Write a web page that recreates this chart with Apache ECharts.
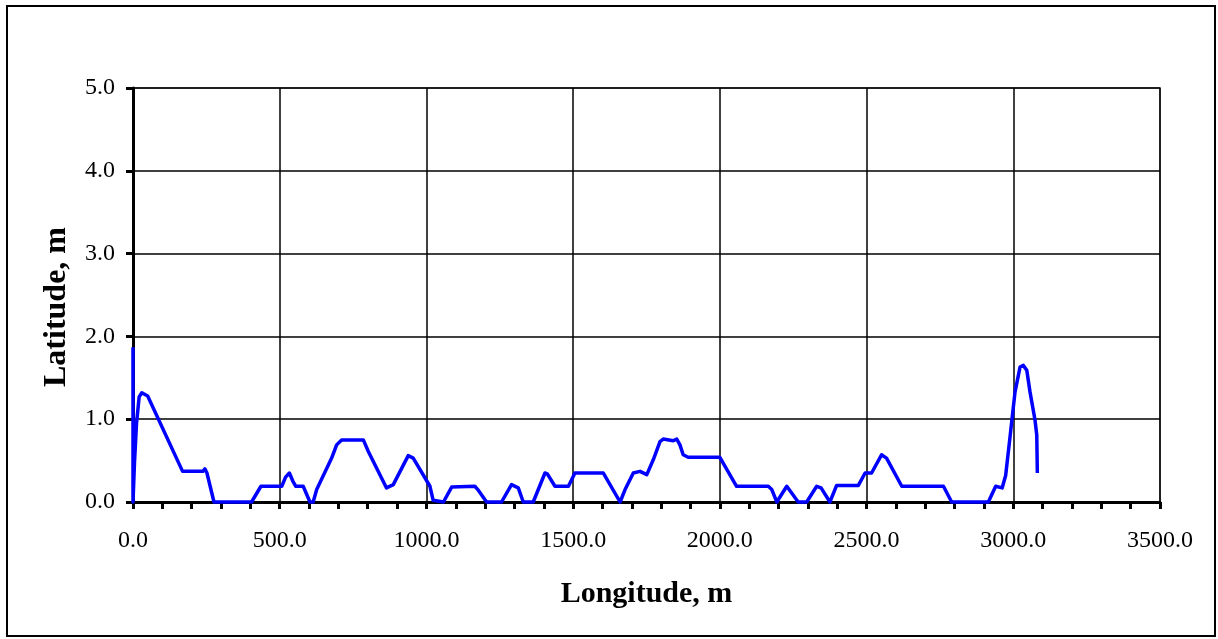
<!DOCTYPE html>
<html>
<head>
<meta charset="utf-8">
<script src="https://cdn.jsdelivr.net/npm/echarts@6/dist/echarts.min.js"></script>
<style>
html,body{margin:0;padding:0;background:#fff;}
#c{width:1218px;height:639px;}
</style>
</head>
<body>
<div id="c"></div>
<script>
const lon = [0, 0, 5, 12, 21, 30, 50, 169, 238, 245, 252, 276, 404, 436, 507, 520, 533, 545, 555, 580, 603, 614, 626, 677, 694, 711, 785, 802, 864, 887, 938, 955, 1012, 1023, 1058, 1086, 1165, 1175, 1205, 1256, 1290, 1313, 1330, 1364, 1404, 1412, 1438, 1484, 1506, 1603, 1660, 1677, 1705, 1728, 1751, 1773, 1796, 1807, 1841, 1853, 1864, 1875, 1892, 2000, 2057, 2165, 2177, 2194, 2228, 2267, 2296, 2330, 2345, 2375, 2398, 2472, 2495, 2517, 2551, 2568, 2620, 2762, 2767, 2790, 2915, 2940, 2962, 2974, 2989, 3006, 3023, 3034, 3046, 3057, 3074, 3080, 3082];
const lat = [1.87, 0, 0.47, 0.95, 1.27, 1.32, 1.28, 0.37, 0.37, 0.40, 0.35, 0, 0, 0.19, 0.19, 0.30, 0.35, 0.25, 0.19, 0.19, 0, 0, 0.15, 0.53, 0.69, 0.75, 0.75, 0.61, 0.17, 0.21, 0.56, 0.53, 0.19, 0.02, 0, 0.18, 0.19, 0.15, 0, 0, 0.21, 0.17, 0, 0, 0.35, 0.34, 0.19, 0.19, 0.35, 0.35, 0, 0.15, 0.35, 0.37, 0.33, 0.51, 0.73, 0.76, 0.74, 0.76, 0.69, 0.57, 0.54, 0.54, 0.19, 0.19, 0.15, 0, 0.19, 0, 0, 0.19, 0.17, 0, 0.2, 0.2, 0.35, 0.35, 0.57, 0.53, 0.19, 0.19, 0.2, 0, 0, 0.19, 0.17, 0.32, 0.79, 1.33, 1.63, 1.65, 1.59, 1.33, 0.99, 0.81, 0.35];
const xTitle = 'Longitude, m';
const yTitle = 'Latitude, m';
const xMin = 0, xMax = 3500, xStep = 500;
const yMin = 0, yMax = 5, yStep = 1;

const data = lon.map((v, i) => [v, lat[i]]);
const font = '"Liberation Serif", "Times New Roman", serif';

const chart = echarts.init(document.getElementById('c'), null, {renderer: 'canvas'});
chart.setOption({
  backgroundColor: '#fff',
  animation: false,
  grid: {left: 133, top: 88, right: 58, bottom: 137, show: true, borderColor: '#808080', borderWidth: 2, backgroundColor: 'transparent'},
  xAxis: {
    type: 'value', min: xMin, max: xMax, interval: xStep,
    name: xTitle, nameLocation: 'middle', nameGap: 77,
    nameTextStyle: {fontFamily: font, fontSize: 30, fontWeight: 'bold', color: '#000'},
    axisLine: {show: true, onZero: false, lineStyle: {color: '#000', width: 3}},
    axisTick: {show: true, inside: false, length: 7, lineStyle: {color: '#000', width: 3}},
    minorTick: {show: true, splitNumber: 5, length: 7, lineStyle: {color: '#000', width: 3}},
    axisLabel: {fontFamily: font, fontSize: 24, color: '#000', margin: 27, formatter: v => v.toFixed(1)},
    splitLine: {show: true, lineStyle: {color: '#000', width: 1.5}}
  },
  yAxis: {
    type: 'value', min: yMin, max: yMax, interval: yStep,
    axisLine: {show: true, onZero: false, lineStyle: {color: '#000', width: 3}},
    axisTick: {show: true, inside: false, length: 7, lineStyle: {color: '#000', width: 3}},
    axisLabel: {fontFamily: font, fontSize: 24, color: '#000', margin: 18, formatter: v => v.toFixed(1)},
    splitLine: {show: true, lineStyle: {color: '#000', width: 1.5}}
  },
  graphic: [
    {type: 'rect', shape: {x: 7, y: 6, width: 1208, height: 630}, style: {fill: 'none', stroke: '#000', lineWidth: 2}, silent: true, z: 100},
    {type: 'text', x: 57, y: 307, rotation: Math.PI / 2, style: {text: yTitle, font: 'bold 32px ' + font, fill: '#000', align: 'center', verticalAlign: 'middle'}, z: 100}
  ],
  series: [{
    type: 'line', data: data, showSymbol: false, smooth: false,
    lineStyle: {color: '#0000FF', width: 3.5, join: 'round'},
    itemStyle: {color: '#0000FF'},
    clip: false
  }]
});
</script>
</body>
</html>
